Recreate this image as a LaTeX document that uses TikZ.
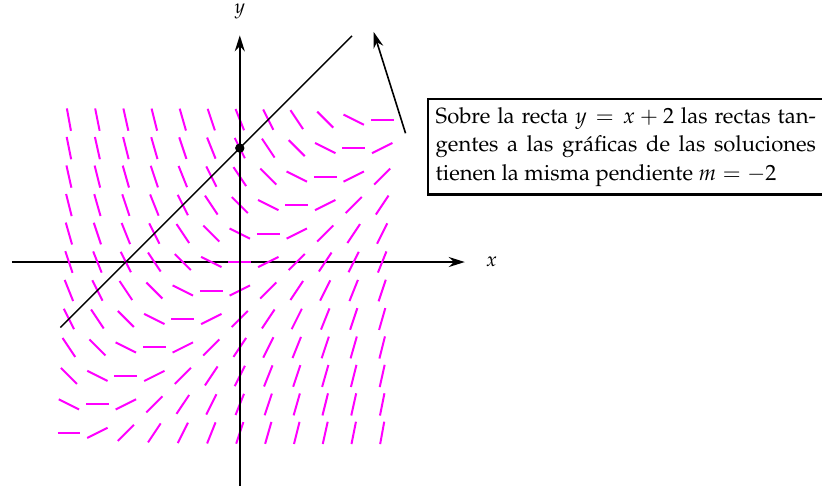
\documentclass[tikz,border=0pt]{standalone}
\usepackage[T1]{fontenc}
\usepackage{mathpazo}
\usetikzlibrary{arrows.meta}
\definecolor{campo}{RGB}{255,0,255}

\begin{document}
\begin{tikzpicture}[>={Stealth[length=8pt,width=5pt]}]
% x axis
\draw[->,line width=1pt] (-4,0) -- (3.95,0);
\node (xlab) at (4.42,0) {$x$};

% Slope field y' = x - y
\foreach \i [evaluate=\i as \x using -3+\i*0.5] in {0,...,11} {
  \foreach \j [evaluate=\j as \y using -3+\j*0.5] in {0,...,11} {
    \pgfmathsetmacro{\a}{atan(\x-\y)}
    \draw[campo,line width=1pt] (\x,\y) ++(\a+180:0.2) -- ++(\a:0.4);
  }
}
% y axis
\draw[->,line width=1pt] (0,-4) -- (0,3.98);
\node (ylab) at (0,4.4) {$y$};

% Line y = x+2 and its point on the y axis
\draw[line width=0.7pt] plot[domain=-3.15:1.97] (\x,\x+2);
\node[circle,fill,inner sep=0pt,minimum size=0.165cm] (punto) at (0,2) {};

% Note
\node[draw,line width=1.1pt,anchor=north west,text width=190pt,align=justify,
  inner sep=4pt,font={\fontsize{11}{14.3}\selectfont}] (nota) at (3.28,2.88)
  {Sobre la recta $y=x+2$ las rectas tan-\linebreak gentes a las gr\'aficas de las soluciones\linebreak tienen la misma pendiente $m=-2$};
\coordinate (cola) at (2.91,2.26);
\coordinate (punta) at (2.35,4.04);
\draw[->,line width=0.8pt] (cola) -- (punta);

% Page: the right border of the note is cut off
\coordinate (bordeder) at ([xshift=-1.6pt]nota.east);
\coordinate (arriba) at (0,4.6);
\pgfresetboundingbox
\useasboundingbox (-4.21,-3.93) rectangle (bordeder |- arriba);
\end{tikzpicture}
\end{document}
